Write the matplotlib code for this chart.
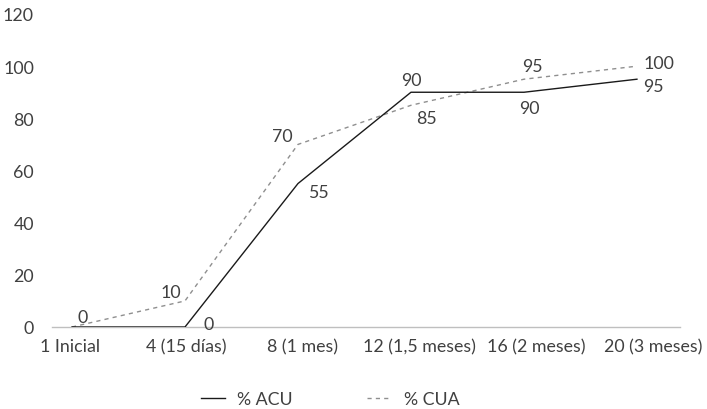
import numpy as np
import matplotlib
matplotlib.use("Agg")
import matplotlib.pyplot as plt

plt.rcParams['font.family'] = ['Lato', 'DejaVu Sans']

# sampling points and percentages for each group
etapas = ['1 Inicial', '4 (15 días)', '8 (1 mes)', '12 (1,5 meses)', '16 (2 meses)', '20 (3 meses)']
acu = [0, 0, 55, 90, 90, 95]
cua = [0, 10, 70, 85, 95, 100]

# label offsets in points (dx, dy) so the numbers don't sit on the lines
off_acu = [(8, 7), (17, 2), (15, -6), (0, 9), (4, -11), (12, -5)]
off_cua = [(8, 7), (-10, 6.5), (-11, 6), (11, -9.5), (6, 9.5), (16, 2)]

txt = '#404040'
fs = 12.8

fig = plt.figure(figsize=(7.07, 4.10), dpi=100)
ax = fig.add_axes([52 / 707, 1 - 328 / 410, 628 / 707, 313 / 410])

x = np.arange(len(etapas))
l2, = ax.plot(x, cua, color='#8f8f8f', lw=1.0, ls=(0, (3, 3)), label='% CUA', zorder=3)
l1, = ax.plot(x, acu, color='#1a1a1a', lw=1.0, label='% ACU', zorder=4)

for xi, v, c, oa, oc in zip(x, acu, cua, off_acu, off_cua):
    ax.annotate(str(c), (xi, c), xytext=oc, textcoords='offset points',
                ha='center', va='center', fontsize=fs, color=txt)
    # both series start at 0, so one label is enough there
    if v == c and oa == oc:
        continue
    ax.annotate(str(v), (xi, v), xytext=oa, textcoords='offset points',
                ha='center', va='center', fontsize=fs, color=txt)

ax.set_xlim(-0.177, 5.381)
ax.set_ylim(0, 120)
ax.set_yticks(np.arange(0, 121, 20))
ax.set_xticks(x * 1.032 - 0.02)
ax.set_xticklabels(etapas)
ax.tick_params(axis='both', length=0, labelsize=fs, labelcolor=txt)
ax.tick_params(axis='y', pad=13)
ax.tick_params(axis='x', pad=8)

for s in ['top', 'right', 'left']:
    ax.spines[s].set_visible(False)
ax.spines['bottom'].set_color('#bfbfbf')
ax.spines['bottom'].set_linewidth(1.0)

leg = fig.legend(handles=[l1, l2], loc='center', bbox_to_anchor=(330 / 707, 1 - 400 / 410),
                 ncol=2, frameon=False, fontsize=fs, handlelength=1.4,
                 handletextpad=0.65, columnspacing=4.2)
for t in leg.get_texts():
    t.set_color(txt)

fig.savefig('out.png', dpi=100)
